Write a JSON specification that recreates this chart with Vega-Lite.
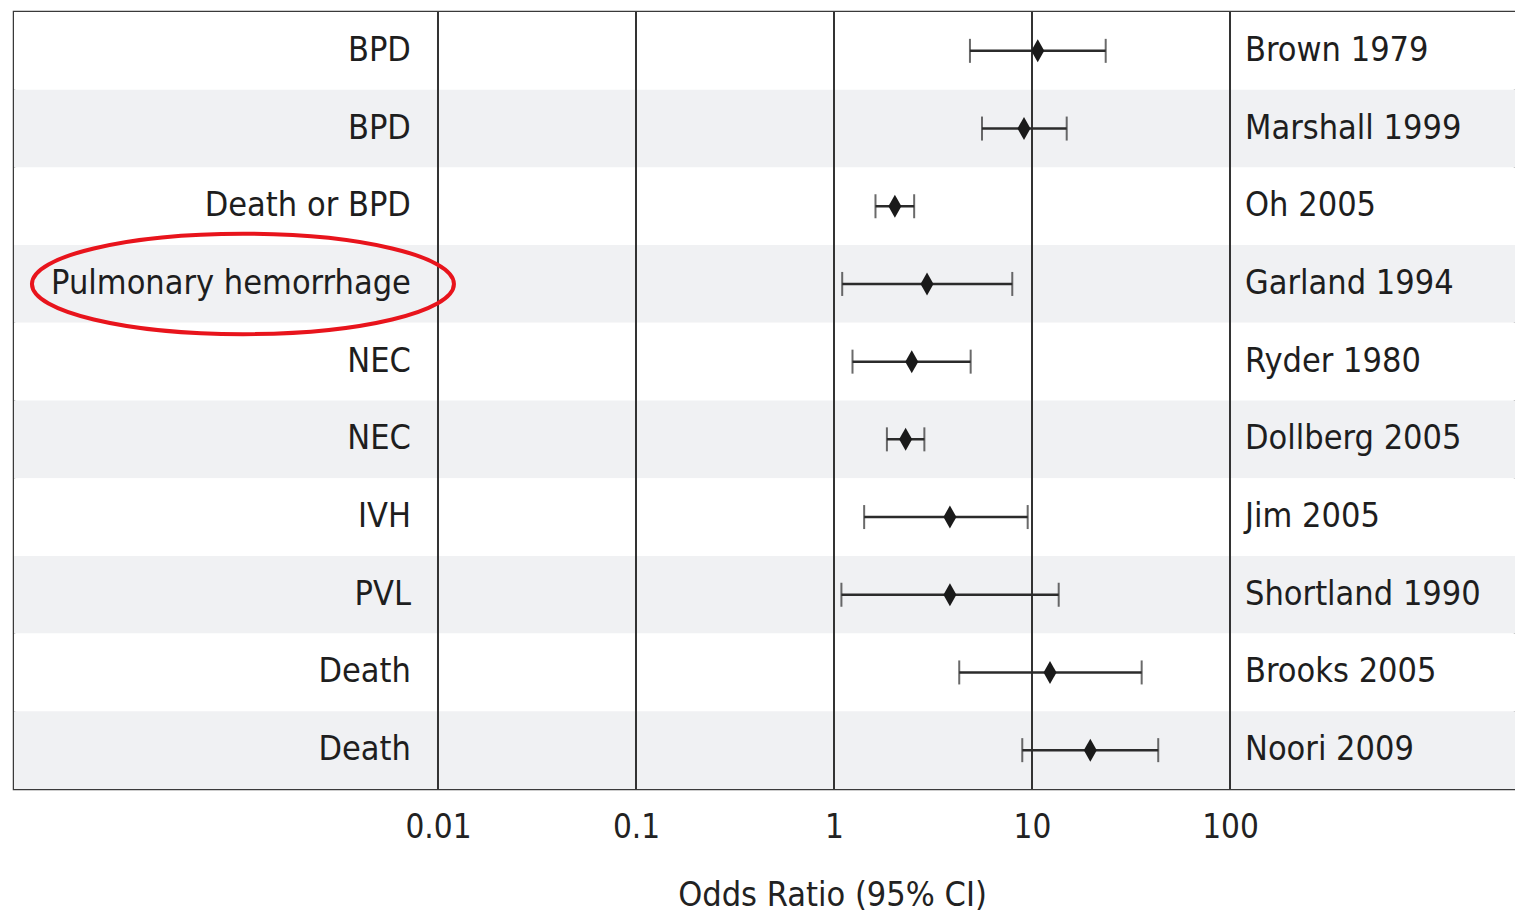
{
  "$schema": "https://vega.github.io/schema/vega-lite/v6.json",
  "width": 1501,
  "height": 777,
  "padding": {"left": 14, "top": 11, "right": 0, "bottom": 0},
  "background": "white",
  "config": {
    "view": {"stroke": "#3a3a3a", "strokeWidth": 2.5},
    "font": "'DejaVu Sans Condensed', 'Liberation Sans Narrow', 'Liberation Sans', sans-serif"
  },
  "data": {
    "values": [
      {"outcome": "BPD", "study": "Brown 1979", "or": 10.69, "lo": 4.86, "hi": 23.56},
      {"outcome": "BPD", "study": "Marshall 1999", "or": 9.11, "lo": 5.59, "hi": 14.97},
      {"outcome": "Death or BPD", "study": "Oh 2005", "or": 2.03, "lo": 1.62, "hi": 2.54},
      {"outcome": "Pulmonary hemorrhage", "study": "Garland 1994", "or": 2.95, "lo": 1.10, "hi": 7.95},
      {"outcome": "NEC", "study": "Ryder 1980", "or": 2.47, "lo": 1.24, "hi": 4.90},
      {"outcome": "NEC", "study": "Dollberg 2005", "or": 2.30, "lo": 1.85, "hi": 2.86},
      {"outcome": "IVH", "study": "Jim 2005", "or": 3.85, "lo": 1.42, "hi": 9.51},
      {"outcome": "PVL", "study": "Shortland 1990", "or": 3.85, "lo": 1.09, "hi": 13.64},
      {"outcome": "Death", "study": "Brooks 2005", "or": 12.33, "lo": 4.29, "hi": 35.8},
      {"outcome": "Death", "study": "Noori 2009", "or": 19.7, "lo": 8.93, "hi": 43.4}
    ]
  },
  "layer": [
    {
      "transform": [{"window": [{"op": "row_number", "as": "row"}]}],
      "mark": {"type": "rect"},
      "encoding": {
        "y": {"field": "study", "type": "nominal", "sort": null,
          "scale": {"domain": ["Brown 1979", "Marshall 1999", "Oh 2005", "Garland 1994", "Ryder 1980", "Dollberg 2005", "Jim 2005", "Shortland 1990", "Brooks 2005", "Noori 2009"], "paddingInner": 0, "paddingOuter": 0},
          "axis": null},
        "fill": {"condition": {"test": "datum.row % 2 == 0", "value": "#f0f1f3"}, "value": "#ffffff"}
      }
    },
    {
      "data": {"values": [{"v": 0.01}, {"v": 0.1}, {"v": 1}, {"v": 10}, {"v": 100}]},
      "mark": {"type": "rule", "color": "#333333", "strokeWidth": 2},
      "encoding": {
        "x": {"field": "v", "type": "quantitative",
          "scale": {"type": "log", "domain": [0.00007222, 2750], "nice": false},
          "axis": {
            "values": [0.01, 0.1, 1, 10, 100], "format": "~g",
            "grid": false, "domain": false, "ticks": false, "tickSize": 0,
            "labelFontSize": 33, "labelColor": "#222222",
            "labelPadding": 22, "labelFlush": false, "labelOverlap": false,
            "title": "Odds Ratio (95% CI)", "titleFontSize": 34,
            "titleFontWeight": "normal", "titleColor": "#222222", "titlePadding": 34,
            "titleX": 818, "titleAlign": "center"
          }
        }
      }
    },
    {
      "mark": {"type": "rule", "color": "#2b2b2b", "strokeWidth": 2.5},
      "encoding": {
        "y": {"field": "study", "type": "nominal", "sort": null},
        "x": {"field": "lo", "type": "quantitative", "title": "Odds Ratio (95% CI)"},
        "x2": {"field": "hi"}
      }
    },
    {
      "mark": {"type": "tick", "color": "#2b2b2b", "thickness": 2, "size": 24, "orient": "vertical"},
      "encoding": {
        "y": {"field": "study", "type": "nominal", "sort": null},
        "x": {"field": "lo", "type": "quantitative", "title": "Odds Ratio (95% CI)"}
      }
    },
    {
      "mark": {"type": "tick", "color": "#2b2b2b", "thickness": 2, "size": 24, "orient": "vertical"},
      "encoding": {
        "y": {"field": "study", "type": "nominal", "sort": null},
        "x": {"field": "hi", "type": "quantitative", "title": "Odds Ratio (95% CI)"}
      }
    },
    {
      "mark": {"type": "point", "shape": "M0,-1L0.565,0L0,1L-0.565,0Z", "filled": true, "color": "#1a1a1a", "size": 529, "opacity": 1},
      "encoding": {
        "y": {"field": "study", "type": "nominal", "sort": null},
        "x": {"field": "or", "type": "quantitative", "title": "Odds Ratio (95% CI)"}
      }
    },
    {
      "mark": {"type": "text", "align": "right", "baseline": "middle", "fontSize": 34, "color": "#1e1e1e"},
      "encoding": {
        "y": {"field": "study", "type": "nominal", "sort": null},
        "x": {"datum": 0.0073},
        "text": {"field": "outcome"}
      }
    },
    {
      "mark": {"type": "text", "align": "left", "baseline": "middle", "fontSize": 34, "color": "#1e1e1e"},
      "encoding": {
        "y": {"field": "study", "type": "nominal", "sort": null},
        "x": {"datum": 119.1},
        "text": {"field": "study"}
      }
    },
    {
      "transform": [{"filter": "datum.outcome == 'Pulmonary hemorrhage'"}],
      "mark": {"type": "point", "shape": "M-1,0C-1,-0.1314,-0.5523,-0.238,0,-0.238C0.5523,-0.238,1,-0.1314,1,0C1,0.1314,0.5523,0.238,0,0.238C-0.5523,0.238,-1,0.1314,-1,0Z", "filled": false, "stroke": "#e8141c", "strokeWidth": 4, "size": 178084, "opacity": 1},
      "encoding": {
        "y": {"field": "study", "type": "nominal", "sort": null},
        "x": {"datum": 0.001035}
      }
    }
  ]
}
